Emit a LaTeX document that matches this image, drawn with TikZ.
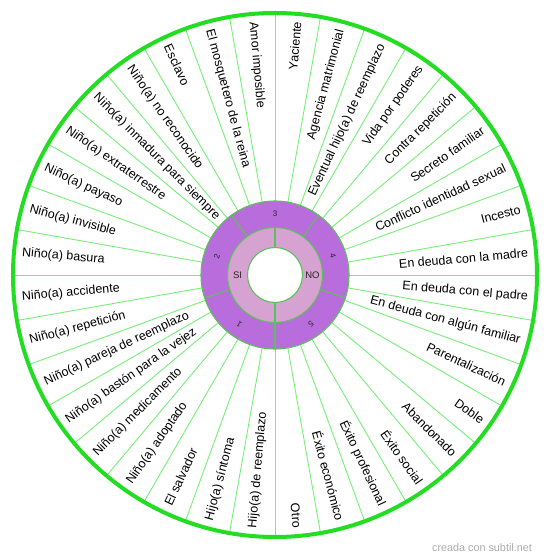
\documentclass[tikz,border=0pt]{standalone}
\usepackage{fontspec}
\setmainfont{Liberation Sans}
\definecolor{outergreen}{HTML}{22DD22}
\definecolor{spokegreen}{HTML}{77EE77}
\definecolor{ringgreen}{HTML}{5CC05C}
\definecolor{ringpurple}{HTML}{B96CDC}
\definecolor{ringpink}{HTML}{D6A2D2}
\definecolor{markgray}{HTML}{AAAAAA}
\begin{document}
\begin{tikzpicture}[x=1pt,y=1pt,
  lbl/.style={inner sep=0pt,font=\fontsize{12.5}{14}\selectfont,text=black},
  seglbl/.style={inner sep=0pt,font=\fontsize{8}{9}\selectfont,text=black!85},
  halflbl/.style={inner sep=0pt,font=\fontsize{9.5}{11}\selectfont,text=black!85},
  spoke/.style={draw=spokegreen,line width=0.9pt},
  ringline/.style={draw=ringgreen,line width=1.1pt},
  rim/.style={draw=outergreen,line width=4pt}]
\useasboundingbox (-275,-284) rectangle (275,275);
% spokes
\foreach \a in {0,10,...,350} \draw[spoke] (\a:74) -- (\a:262);
% outer rim
\draw[rim] (0,0) circle (262);
% inner rings
\fill[ringpurple] (0,0) circle (74);
\fill[ringpink] (0,0) circle (47.5);
\fill[white] (0,0) circle (27.5);
\draw[ringline] (0,0) circle (74) (0,0) circle (47.5) (0,0) circle (27.5);
\foreach \a in {54,-18,-90,-162,126} \draw[ringline] (\a:47.5) -- (\a:74);
\foreach \a in {90,-90} \draw[ringline] (\a:27.5) -- (\a:47.5);
% segment numbers
\foreach \n/\a in {3/90,4/18,5/-54,1/-126,2/162} {
  \pgfmathsetmacro\r{\a-90}
  \node[seglbl,rotate=\r] (s\n) at (\a:61) {\n};
}
\node[halflbl] (si) at (180:37.5) {SI};
\node[halflbl] (no) at (0:37.5) {NO};
% right-hand labels
\foreach \t [count=\i] in {{Yaciente},{Agencia matrimonial},{Eventual hijo(a) de reemplazo},{Vida por poderes},{Contra repetición},{Secreto familiar},{Conflicto identidad sexual},{Incesto},{En deuda con la madre},{En deuda con el padre},{En deuda con algún familiar},{Parentalización},{Doble},{Abandonado},{Éxito social},{Éxito profesional},{Éxito económico},{Otro}} {
  \pgfmathsetmacro\a{95-10*\i}
  \node[lbl,anchor=east,rotate=\a] (r\i) at (\a:254) {\t};
}
% left-hand labels
\foreach \t [count=\i] in {{Hijo(a) de reemplazo},{Hijo(a) síntoma},{El salvador},{Niño(a) adoptado},{Niño(a) medicamento},{Niño(a) bastón para la vejez},{Niño(a) pareja de reemplazo},{Niño(a) repetición},{Niño(a) accidente},{Niño(a) basura},{Niño(a) invisible},{Niño(a) payaso},{Niño(a) extraterrestre},{Niño(a) inmadura para siempre},{Niño(a) no reconocido},{Esclavo},{El mosquetero de la reina},{Amor imposible}} {
  \pgfmathsetmacro\a{275-10*\i}
  \pgfmathsetmacro\b{\a+180}
  \node[lbl,anchor=west,rotate=\b] (l\i) at (\a:254) {\t};
}
% watermark
\node[inner sep=0pt,font=\fontsize{10.8}{12}\selectfont,text=markgray] (mark) at (207,-273) {creada con subtil.net};
\end{tikzpicture}
\end{document}
